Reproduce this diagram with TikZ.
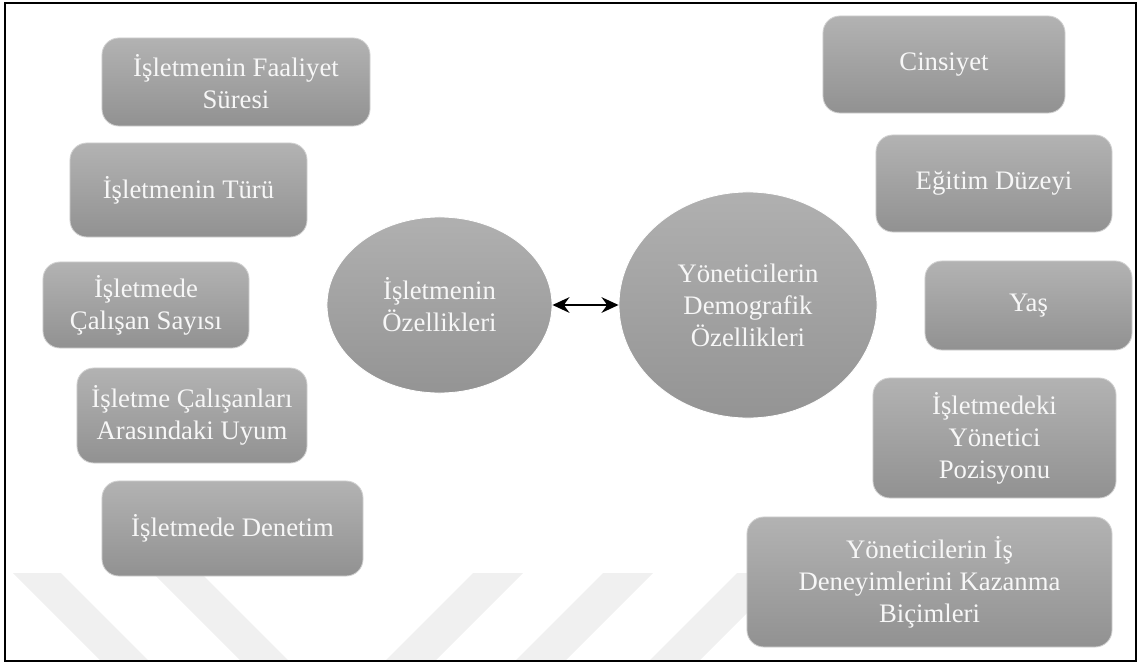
\documentclass[tikz,border=0pt]{standalone}
\usepackage{fontspec}
\setmainfont{Liberation Serif}
\usetikzlibrary{shapes.geometric,arrows.meta}

\begin{document}
\begin{tikzpicture}[x=0.025cm, y=-0.025cm,
    factor/.style={rectangle, rounded corners=12pt, draw=black!18, line width=0.6pt,
        top color=black!30, bottom color=black!43, text=black!3, align=center,
        inner sep=2pt, font=\fontsize{19}{22.7}\selectfont},
    core/.style={ellipse, draw=white, line width=0.6pt, inner sep=0pt,
        top color=black!31, bottom color=black!42, text=black!3, align=center,
        font=\fontsize{19}{22.7}\selectfont},
    link/.style={<->, >={Stealth[length=12pt,width=11pt]}, line width=2pt}]
    \useasboundingbox (0,0) rectangle (1140,664);
    % faint stripes at the bottom
    \foreach \s in {13,153}
        \fill[black!6] (\s,573) -- ++(48,0) -- ++(87,87) -- ++(-48,0) -- cycle;
    \foreach \s in {473,603,737}
        \fill[black!6] (\s,573) -- ++(50,0) -- ++(-87,87) -- ++(-50,0) -- cycle;
    \draw[line width=1.5pt] (5,3) rectangle (1136,661);

    % the firm
    \node[factor, minimum width=6.7cm, minimum height=2.2cm] (faaliyet) at (236,82) {İşletmenin Faaliyet\\Süresi};
    \node[factor, minimum width=5.925cm, minimum height=2.35cm] (tur) at (188.5,190) {İşletmenin Türü};
    \node[factor, minimum width=5.15cm, minimum height=2.15cm] (sayi) at (146,305) {İşletmede\\Çalışan Sayısı};
    \node[factor, minimum width=5.75cm, minimum height=2.375cm] (uyum) at (192,415.5) {İşletme Çalışanları\\Arasındaki Uyum};
    \node[factor, minimum width=6.525cm, minimum height=2.375cm] (denetim) at (232.5,528.5) {İşletmede Denetim};

    % the managers
    \node[factor, minimum width=6.05cm, minimum height=2.425cm] (cinsiyet) at (944,64.5) {Cinsiyet};
    \node[factor, minimum width=5.9cm, minimum height=2.425cm] (egitim) at (994,183.5) {Eğitim Düzeyi};
    \node[factor, minimum width=5.175cm, minimum height=2.225cm] (yas) at (1028.5,305.5) {Yaş};
    \node[factor, minimum width=6.075cm, minimum height=3cm] (pozisyon) at (994.5,438) {İşletmedeki\\Yönetici\\Pozisyonu};
    \node[factor, minimum width=9.125cm, minimum height=3.25cm] (deneyim) at (929.5,582) {Yöneticilerin İş\\Deneyimlerini Kazanma\\Biçimleri};

    \node[core, minimum width=5.625cm, minimum height=4.4cm] (isletme) at (439.5,305) {İşletmenin\\Özellikleri};
    \node[core, minimum width=6.45cm, minimum height=5.65cm] (yonetici) at (748,305) {Yöneticilerin\\Demografik\\Özellikleri};

    \draw[link] (isletme) -- (yonetici);
\end{tikzpicture}
\end{document}
